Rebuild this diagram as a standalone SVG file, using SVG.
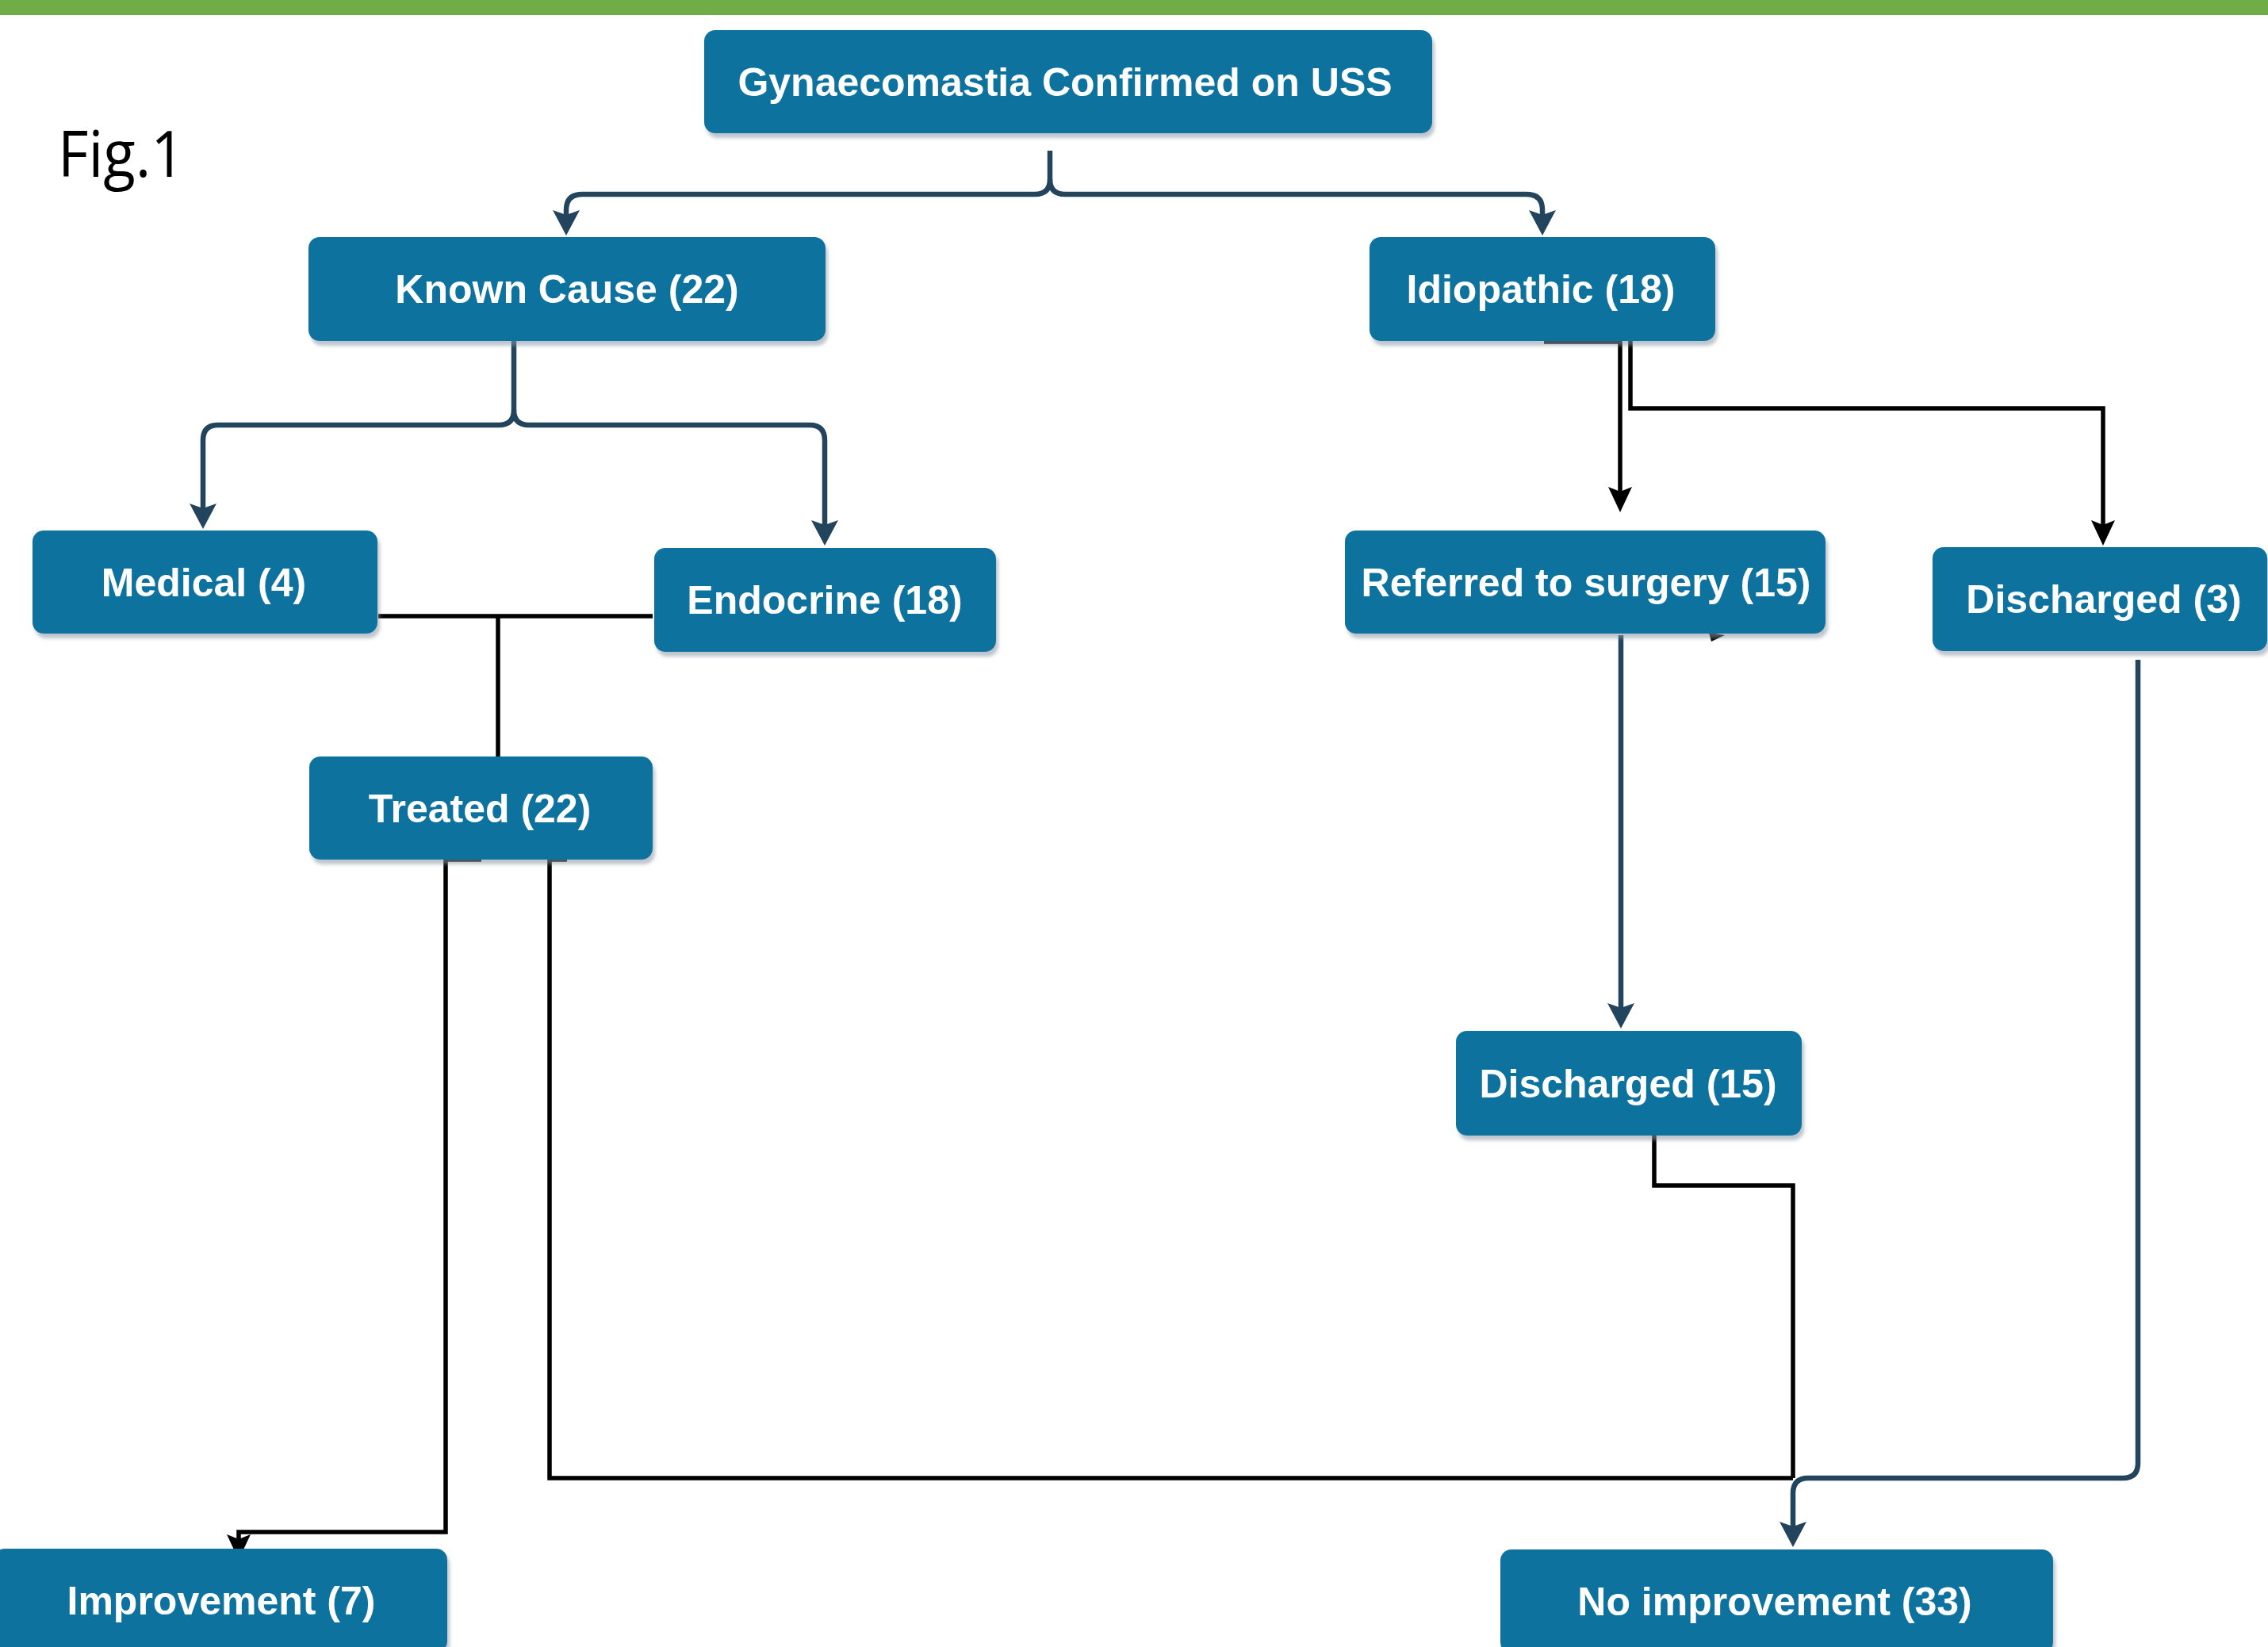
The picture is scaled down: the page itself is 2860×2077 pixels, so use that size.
<svg xmlns="http://www.w3.org/2000/svg" width="2860" height="2077" viewBox="0 0 2860 2077">
<defs>
<style>
.box{fill:#10739E;filter:url(#sh)}
.lbl{fill:#FFFFFF;font-family:"Liberation Sans",Arial,Helvetica,sans-serif;font-weight:bold;font-size:50px;text-anchor:middle}
.navy{fill:none;stroke:#23445D;stroke-width:6.5;stroke-linejoin:round}
.blk{fill:none;stroke:#000000;stroke-width:5.5;stroke-linejoin:miter}
</style>
<filter id="sh" x="-5%" y="-10%" width="115%" height="130%">
<feDropShadow dx="3" dy="6" stdDeviation="2" flood-color="#8796a5" flood-opacity="0.55"/>
</filter>
<marker id="an" markerUnits="userSpaceOnUse" viewBox="-12 -18 36 36" markerWidth="36" markerHeight="36" refX="0" refY="0" orient="auto">
<path d="M22,0 L-10,-17 L-4,0 L-10,17 Z" fill="#23445D"/>
</marker>
<marker id="ab" markerUnits="userSpaceOnUse" viewBox="-12 -18 36 36" markerWidth="36" markerHeight="36" refX="0" refY="0" orient="auto">
<path d="M22,0 L-10,-15 L-4,0 L-10,15 Z" fill="#000000"/>
</marker>
</defs>
<rect x="0" y="0" width="2860" height="2077" fill="#FFFFFF"/>
<rect x="0" y="0" width="2860" height="19" fill="#70AD47"/>
<text x="73" y="223" font-family="Open Sans, Liberation Sans, sans-serif" font-size="80" fill="#000000" textLength="160" lengthAdjust="spacingAndGlyphs">Fig.1</text>

<g id="connectors">
<path class="navy" d="M1324,190 L1324,226 Q1324,245 1305,245 L734,245 Q714,245 714,265 L714,275" marker-end="url(#an)"/>
<path class="navy" d="M1324,226 Q1324,245 1343,245 L1925,245 Q1945,245 1945,265 L1945,275" marker-end="url(#an)"/>
<path class="navy" d="M648,430 L648,517 Q648,536 629,536 L275,536 Q256,536 256,555 L256,645" marker-end="url(#an)"/>
<path class="navy" d="M648,517 Q648,536 667,536 L1021,536 Q1040,536 1040,555 L1040,666" marker-end="url(#an)"/>
<path class="blk" d="M477,777 L823,777"/>
<path class="blk" d="M628,777 L628,954"/>
<path class="blk" d="M1947,431 L2043,431 L2043,624" marker-end="url(#ab)"/>
<path class="blk" d="M2056,427 L2056,515 L2652,515 L2652,666" marker-end="url(#ab)"/>
<path class="navy" d="M2044,801 L2044,1275" marker-end="url(#an)"/>
<path class="blk" d="M2086,1432 L2086,1495 L2261,1495 L2261,1864"/>
<path class="blk" d="M715,1084 L693,1084 L693,1864 L2261,1864"/>
<path class="blk" d="M607,1084 L562,1084 L562,1932 L301,1932 L301,1945" marker-end="url(#ab)"/>
<path class="navy" d="M2696,832 L2696,1845 Q2696,1864 2677,1864 L2280,1864 Q2261,1864 2261,1883 L2261,1929" marker-end="url(#an)"/>
<path d="M2155,798 L2175,801 L2158,809 Z" fill="#000000"/>
</g>

<g id="n-gyn"><rect class="box" x="888" y="38" width="918" height="130" rx="14"/><text class="lbl" x="1343" y="121" font-size="52">Gynaecomastia Confirmed on USS</text></g>
<g id="n-known"><rect class="box" x="389" y="299" width="652" height="131" rx="14"/><text class="lbl" x="715" y="382">Known Cause (22)</text></g>
<g id="n-idio"><rect class="box" x="1727" y="299" width="436" height="131" rx="14"/><text class="lbl" x="1943" y="382">Idiopathic (18)</text></g>
<g id="n-medical"><rect class="box" x="41" y="669" width="435" height="130" rx="14"/><text class="lbl" x="257" y="752">Medical (4)</text></g>
<g id="n-endo"><rect class="box" x="825" y="691" width="431" height="131" rx="14"/><text class="lbl" x="1040" y="774">Endocrine (18)</text></g>
<g id="n-treated"><rect class="box" x="390" y="954" width="433" height="130" rx="14"/><text class="lbl" x="605" y="1037">Treated (22)</text></g>
<g id="n-referred"><rect class="box" x="1696" y="669" width="606" height="130" rx="14"/><text class="lbl" x="2000" y="752">Referred to surgery (15)</text></g>
<g id="n-dis3"><rect class="box" x="2437" y="690" width="422" height="131" rx="14"/><text class="lbl" x="2653" y="773">Discharged (3)</text></g>
<g id="n-dis15"><rect class="box" x="1836" y="1300" width="436" height="132" rx="14"/><text class="lbl" x="2053" y="1384">Discharged (15)</text></g>
<g id="n-improve"><rect class="box" x="-8" y="1953" width="572" height="131" rx="14"/><text class="lbl" x="279" y="2036">Improvement (7)</text></g>
<g id="n-noimprove"><rect class="box" x="1892" y="1954" width="697" height="131" rx="14"/><text class="lbl" x="2238" y="2037">No improvement (33)</text></g>
</svg>
